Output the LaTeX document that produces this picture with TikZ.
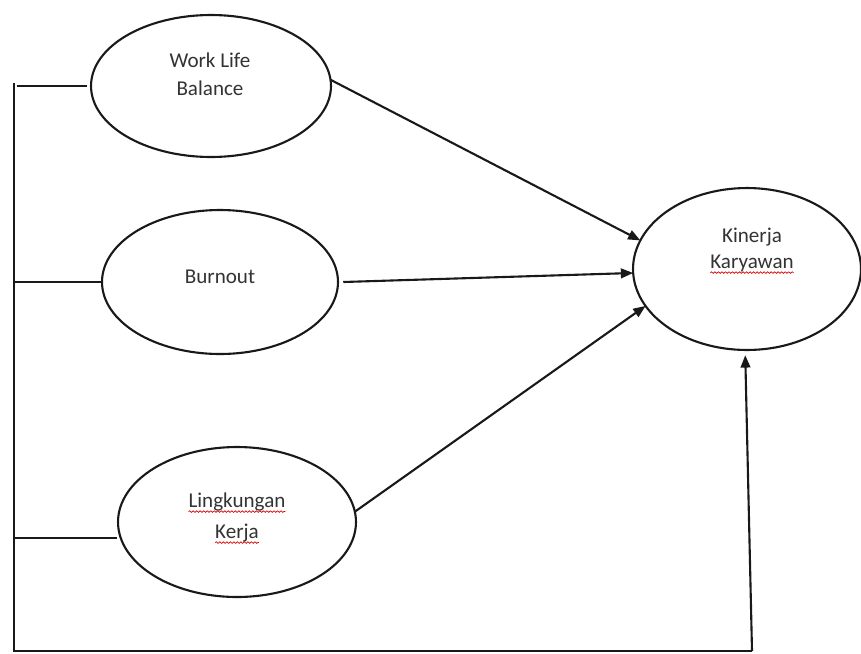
\documentclass[tikz,border=0pt]{standalone}
\usepackage{fontspec}
\setmainfont{Carlito}
\usetikzlibrary{shapes.geometric,arrows.meta,decorations.pathmorphing}
\begin{document}
\begin{tikzpicture}[x=0.02cm,y=-0.02cm,
  oval/.style={draw=black!90,line width=1.2pt,ellipse,inner sep=0pt,outer sep=0pt},
  lbl/.style={inner sep=0pt,outer sep=0pt,anchor=base,text=black!80,font=\fontsize{12}{16}\selectfont},
  conn/.style={draw=black!90,line width=1.2pt},
  arr/.style={conn,-{Triangle[length=7pt,width=5.5pt]}},
  wavy/.style={draw=red!85!black,line width=0.4pt,decorate,decoration={snake,amplitude=0.45pt,segment length=2pt}}]
\useasboundingbox (0,0) rectangle (861,653);
% ellipses
\node[oval,minimum width=4.8cm,minimum height=2.84cm] (wlb) at (211,86) {};
\node[oval,minimum width=4.72cm,minimum height=2.88cm] (burn) at (220,282) {};
\node[oval,minimum width=4.76cm,minimum height=3.0cm] (ling) at (237,522) {};
\node[oval,minimum width=4.56cm,minimum height=3.24cm] (kin) at (747,269) {};
% labels
\node[lbl] (wlb1) at (210,67) {Work Life};
\node[lbl] (wlb2) at (210,95) {Balance};
\node[lbl] (burnt) at (220,283) {Burnout};
\node[lbl] (kin1) at (752,242) {Kinerja};
\node[lbl] (kin2) at (752,268) {Karyawan};
\node[lbl] (ling1) at (237,507) {Lingkungan};
\node[lbl] (ling2) at (237,538) {Kerja};
% spelling underlines
\draw[wavy] ([yshift=-2.6pt]kin2.base west) -- ([yshift=-2.6pt]kin2.base east);
\draw[wavy] ([yshift=-2.6pt]ling1.base west) -- ([yshift=-2.6pt]ling1.base east);
\draw[wavy] ([yshift=-2.6pt]ling2.base west) -- ([yshift=-2.6pt]ling2.base east);
% left bracket
\coordinate (spinetop) at (14,83);
\coordinate (corner) at (14,651);
\coordinate (bc) at (752,651);
\draw[conn] (spinetop) -- (corner) -- (bc);
\draw[conn] ([xshift=1.5pt]wlb.west -| spinetop) -- ([xshift=-2.5pt]wlb.west);
\draw[conn] (burn.west -| spinetop) -- (burn.west);
\draw[conn] (ling.188 -| spinetop) -- ([xshift=-2pt]ling.188);
% arrows
\draw[arr] (wlb.3) -- (kin.165);
\draw[arr] ([xshift=3pt]burn.east) -- (kin.182);
\draw[arr] (ling.5) -- (kin.200);
\draw[arr] (bc) -- ([xshift=-1pt,yshift=-3pt]kin.south);
\end{tikzpicture}
\end{document}
